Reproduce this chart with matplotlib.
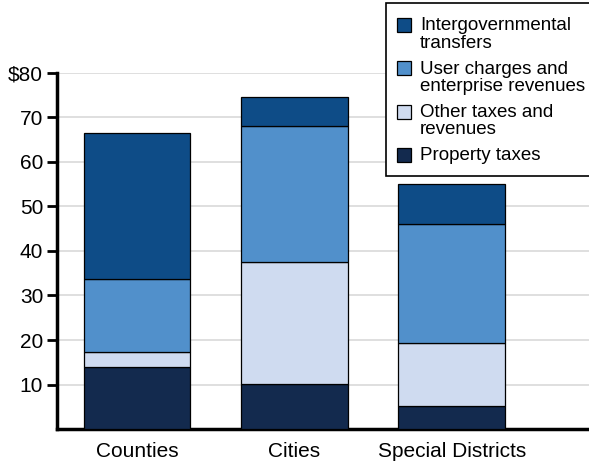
import matplotlib
matplotlib.use("Agg")
import matplotlib.pyplot as plt
from matplotlib.patches import Rectangle
import numpy as np

plt.rcParams['font.family'] = ['Liberation Sans', 'DejaVu Sans']

categories = ["Counties", "Cities", "Special Districts"]
property_taxes = [14.0, 10.1, 5.2]
other_taxes = [3.4, 27.5, 14.1]
user_charges = [16.4, 30.4, 26.7]
intergov = [32.8, 6.7, 9.0]

series = [
    ("Property taxes", property_taxes, "#132A4E"),
    ("Other taxes and\nrevenues", other_taxes, "#CFDBF0"),
    ("User charges and\nenterprise revenues", user_charges, "#5190CB"),
    ("Intergovernmental\ntransfers", intergov, "#0E4C87"),
]

W, H = 589, 463
fig = plt.figure(figsize=(W / 100, H / 100), dpi=100)
ax = fig.add_axes([0.0968, 0.0734, 0.9032, 0.769])

x = np.arange(len(categories))
bottom = np.zeros(len(categories))
for label, vals, color in series:
    ax.bar(x, vals, width=0.677, bottom=bottom, color=color,
           edgecolor="black", linewidth=0.9, label=label, zorder=3)
    bottom += np.array(vals)

ax.set_xlim(-0.508, 2.872)
ax.set_ylim(0, 80)
ax.set_yticks([10, 20, 30, 40, 50, 60, 70, 80])
ax.set_yticklabels(["10", "20", "30", "40", "50", "60", "70", "$80"])
ax.set_xticks(x)
ax.set_xticklabels(categories)
ax.tick_params(axis='y', length=7, width=2, labelsize=15, pad=3)
ax.tick_params(axis='x', length=0, labelsize=15, pad=9)
ax.yaxis.grid(True, color="#D9D9D9", linewidth=1.2, zorder=0)
ax.set_axisbelow(True)
for s in ["top", "right"]:
    ax.spines[s].set_visible(False)
ax.spines["left"].set_linewidth(2.5)
ax.spines["bottom"].set_linewidth(2.5)

# Legend drawn manually (handles aligned with first line of label)
def fx(px):
    return px / W

def fy(py):
    return 1 - py / H

tf = fig.transFigure
fig.patches.append(Rectangle((fx(386), fy(176)), fx(210), (173) / H,
                             transform=tf, facecolor="white", edgecolor="black",
                             linewidth=1.2, clip_on=False, zorder=5))
base0 = 30.5
step = 43.3
line_h = 17.0
for i, (label, vals, color) in enumerate(series[::-1]):
    b = base0 + i * step
    fig.patches.append(Rectangle((fx(397), fy(b + 1.5)), fx(14), 14 / H,
                                 transform=tf, facecolor=color,
                                 edgecolor="black", linewidth=0.9, zorder=6))
    for j, line in enumerate(label.split("\n")):
        fig.text(fx(420), fy(b + j * line_h), line, fontsize=13.5,
                 va="baseline", ha="left", zorder=7)

fig.savefig("out.png", dpi=100)
